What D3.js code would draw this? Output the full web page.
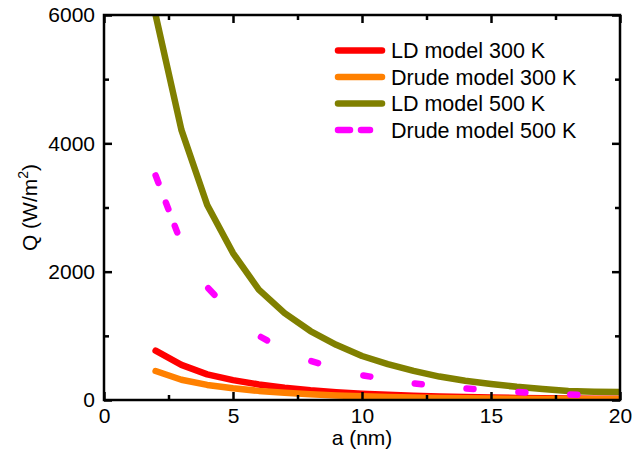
<!DOCTYPE html>
<html>
<head>
<meta charset="utf-8">
<script src="https://cdn.jsdelivr.net/npm/d3@7"></script>
<style>
  html, body { margin: 0; padding: 0; background: #fff; }
  svg { display: block; font-family: "Liberation Sans", Arial, sans-serif; }
</style>
</head>
<body>
<svg id="chart" width="634" height="468"></svg>
<script>
// ---- data ----
const aValues = [2, 3, 4, 5, 6, 7, 8, 9, 10, 11, 12, 13, 14, 15, 16, 17, 18, 19, 20];
const ldModel300 = [768, 548, 400, 310, 242, 192, 152, 122, 98, 80, 66, 54, 45, 38, 32, 27, 23, 20, 18];
const drudeModel300 = [452, 316, 235, 182, 142, 112, 89, 71, 57, 47, 39, 32, 27, 23, 19, 16, 14, 12, 11];
const ldModel500 = [6000, 4210, 3040, 2290, 1720, 1355, 1075, 860, 686, 560, 455, 365, 300, 250, 205, 172, 142, 130, 125];
const drudeModel500 = [3500, 2440, 1760, 1330, 1000, 780, 610, 490, 385, 320, 260, 215, 180, 150, 125, 100, 85, 72, 64];
const seriesNames = ["LD model 300 K", "Drude model 300 K", "LD model 500 K", "Drude model 500 K"];
const xTicks = [0, 5, 10, 15, 20];
const xMinorTicks = [2.5, 7.5, 12.5, 17.5];
const yTicks = [0, 2000, 4000, 6000];
const yMinorTicks = [1000, 3000, 5000];
const xTitle = "a (nm)";

// ---- layout ----
const svg = d3.select("#chart");
const L = 104, R = 620, T = 15, B = 400;
const x = d3.scaleLinear().domain([0, 20]).range([L, R]);
const y = d3.scaleLinear().domain([0, 6000]).range([B, T]);

const colors = ["#ff0000", "#ff8000", "#808000", "#ff00ff"];
const seriesData = [ldModel300, drudeModel300, ldModel500, drudeModel500];
const dashes = [null, null, null, "8,21,7,18,7,64,9,63,7,49,7,47,7,45,7,45,7,45,7,45,7,300"];

svg.append("defs").append("clipPath").attr("id", "clip")
  .append("rect").attr("x", L).attr("y", T).attr("width", R - L).attr("height", B - T);

const line = d3.line().x((d, i) => x(aValues[i])).y(d => y(d));

const plot = svg.append("g").attr("clip-path", "url(#clip)");
seriesData.forEach((vals, k) => {
  const p = plot.append("path")
    .attr("d", line(vals))
    .attr("fill", "none")
    .attr("stroke", colors[k])
    .attr("stroke-width", 6.5)
    .attr("stroke-linejoin", "round")
    .attr("stroke-linecap", "round");
  if (dashes[k]) p.attr("stroke-dasharray", dashes[k]);
});

// ---- axes ----
const fs = 21;
function styleAxis(g) {
  g.select(".domain").remove();
  g.selectAll(".tick line").attr("stroke", "#000").attr("stroke-width", 2.5);
  g.selectAll(".tick text").attr("font-size", fs).attr("fill", "#000")
    .attr("font-family", '"Liberation Sans", Arial, sans-serif');
}
const gx = svg.append("g").attr("transform", `translate(0,${B})`)
  .call(d3.axisBottom(x).tickValues(xTicks).tickFormat(d3.format("d")).tickSizeInner(-8).tickSizeOuter(0).tickPadding(8));
styleAxis(gx);
const gxm = svg.append("g").attr("transform", `translate(0,${B})`)
  .call(d3.axisBottom(x).tickValues(xMinorTicks).tickFormat("").tickSizeInner(-5).tickSizeOuter(0));
styleAxis(gxm);
const gxt = svg.append("g").attr("transform", `translate(0,${T})`)
  .call(d3.axisTop(x).tickValues(xTicks).tickFormat("").tickSizeInner(-8).tickSizeOuter(0));
styleAxis(gxt);
const gxtm = svg.append("g").attr("transform", `translate(0,${T})`)
  .call(d3.axisTop(x).tickValues(xMinorTicks).tickFormat("").tickSizeInner(-5).tickSizeOuter(0));
styleAxis(gxtm);

const gy = svg.append("g").attr("transform", `translate(${L},0)`)
  .call(d3.axisLeft(y).tickValues(yTicks).tickFormat(d3.format("d")).tickSizeInner(-8).tickSizeOuter(0).tickPadding(9));
styleAxis(gy);
const gym = svg.append("g").attr("transform", `translate(${L},0)`)
  .call(d3.axisLeft(y).tickValues(yMinorTicks).tickFormat("").tickSizeInner(-5).tickSizeOuter(0));
styleAxis(gym);
const gyr = svg.append("g").attr("transform", `translate(${R},0)`)
  .call(d3.axisRight(y).tickValues(yTicks).tickFormat("").tickSizeInner(-8).tickSizeOuter(0));
styleAxis(gyr);
const gyrm = svg.append("g").attr("transform", `translate(${R},0)`)
  .call(d3.axisRight(y).tickValues(yMinorTicks).tickFormat("").tickSizeInner(-5).tickSizeOuter(0));
styleAxis(gyrm);

// frame
svg.append("rect").attr("x", L).attr("y", T).attr("width", R - L).attr("height", B - T)
  .attr("fill", "none").attr("stroke", "#000").attr("stroke-width", 2.5);

// axis titles
svg.append("text").attr("x", (L + R) / 2).attr("y", 445).attr("text-anchor", "middle")
  .attr("font-size", fs).text(xTitle);
const yt = svg.append("text").attr("transform", `translate(37,${(T + B) / 2}) rotate(-90)`)
  .attr("text-anchor", "middle").attr("font-size", fs);
yt.append("tspan").text("Q (W/m");
yt.append("tspan").attr("font-size", 14).attr("dy", -9).text("2");
yt.append("tspan").attr("dy", 9).text(")");

// legend
const legY = [50.5, 77, 103.5, 130];
const leg = svg.append("g");
seriesNames.forEach((name, k) => {
  const row = leg.append("g").attr("transform", `translate(0,${legY[k]})`);
  const ln = row.append("line").attr("x1", 338).attr("x2", 382).attr("y1", 0).attr("y2", 0)
    .attr("stroke", colors[k]).attr("stroke-width", 6.5).attr("stroke-linecap", "round");
  if (dashes[k]) ln.attr("stroke-dasharray", "12,11,9,100");
  row.append("text").attr("x", 391).attr("y", 0).attr("dy", "0.36em")
    .attr("font-size", 21.5).text(name);
});
</script>
</body>
</html>
